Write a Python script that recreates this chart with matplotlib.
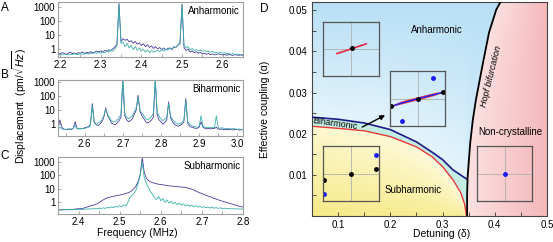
import numpy as np
import matplotlib
matplotlib.use("Agg")
import matplotlib.pyplot as plt
from matplotlib.ticker import FixedLocator, MultipleLocator, NullLocator
from matplotlib.colors import to_rgb

plt.rcParams['font.family'] = ['Liberation Sans', 'DejaVu Sans']
plt.rcParams['font.size'] = 7

# ---------------- spectra (A, B, C) ----------------
# A: anharmonic, sampled every 0.005 MHz from 2.195 to 2.65
a_purple = [0.5, 0.45, 0.55, 0.5, 0.42, 0.5, 0.6, 0.48, 0.52, 0.45,
            0.55, 0.5, 0.62, 0.48, 0.58, 0.52, 0.65, 0.55, 0.6, 0.7,
            0.62, 0.75, 0.6, 0.8, 0.7, 0.9, 0.75, 1.1, 1.3, 2.5,
            1800,
            3.5, 5.5, 4.2, 5, 3.2, 4, 2.6, 3.5, 2.2, 2.8,
            1.8, 2.4, 1.5, 2, 1.3, 1.7, 1.1, 1.5, 1.0, 1.3,
            0.9, 1.2, 0.85, 1.1, 1.2, 0.9, 1.4, 1.3, 1.9, 2.4,
            1600,
            1.2, 0.8, 1.0, 0.6, 0.75, 0.55, 0.65, 0.5, 0.6, 0.45,
            0.5, 0.42, 0.48, 0.4, 0.45, 0.38, 0.42, 0.45, 0.4, 0.38,
            0.42, 0.36, 0.4, 0.38, 0.35, 0.4, 0.37, 0.36, 0.38, 0.35]
a_teal = [0.4, 0.42, 0.38, 0.45, 0.4, 0.38, 0.43, 0.4, 0.45, 0.42,
          0.4, 0.48, 0.42, 0.45, 0.5, 0.44, 0.52, 0.48, 0.55, 0.5,
          0.58, 0.5, 0.65, 0.55, 0.7, 0.6, 0.8, 0.7, 1.0, 1.8,
          1500,
          2.5, 3.2, 1.4, 2.6, 1.2, 1.9, 0.9, 1.5, 0.8, 1.2,
          0.7, 1.0, 0.6, 0.85, 0.55, 0.75, 0.6, 0.7, 0.8, 0.65,
          0.9, 0.7, 1.0, 0.85, 1.2, 1.0, 1.5, 1.3, 2.0, 3.0,
          1400,
          1.8, 1.2, 1.5, 0.9, 1.1, 0.8, 0.9, 0.75, 0.85, 0.7,
          0.8, 0.65, 0.75, 0.6, 0.7, 0.55, 0.62, 0.5, 0.58, 0.5,
          0.55, 0.45, 0.5, 0.42, 0.48, 0.4, 0.45, 0.4, 0.42, 0.38]

# B: biharmonic, every 0.005 MHz from 2.53 to 3.015
b_purple = [0.5, 2.0, 0.6, 0.45, 0.4, 0.42, 0.45, 0.4, 0.5, 1.5,
            0.5, 0.45, 0.5, 0.48, 0.55, 0.6, 0.65, 1.0, 30, 1.5,
            0.9, 0.8, 1.0, 1.5, 3, 15, 4, 2.5, 1.2, 1.0,
            0.9, 1.2, 1.8, 3, 1500, 4, 2, 1.5, 1.8, 2.5,
            5, 10, 120, 8, 4, 2.5, 1.5, 1.2, 1.5, 2,
            3, 1400, 5, 2, 1.5, 1.0, 1.3, 2, 40, 3,
            1.5, 1.0, 0.8, 0.7, 0.8, 1.0, 1.5, 70, 1.2, 0.7,
            0.6, 0.55, 0.5, 0.5, 0.6, 1.5, 0.6, 0.5, 0.45, 0.5,
            0.45, 0.5, 0.48, 0.6, 0.45, 0.42, 0.45, 0.4, 0.42, 0.4,
            0.42, 0.4, 0.38, 0.42, 0.4, 0.38, 0.4, 0.38]
b_teal = [0.4, 0.6, 0.45, 0.42, 0.4, 0.45, 0.42, 0.45, 0.5, 0.8,
          0.45, 0.5, 0.45, 0.5, 0.48, 0.55, 0.6, 0.8, 20, 1.2,
          1.0, 1.2, 1.5, 2, 4, 12, 5, 3, 1.8, 1.5,
          1.5, 2, 3, 5, 1800, 6, 3, 2.5, 3, 4,
          8, 15, 80, 10, 6, 4, 2.5, 2, 2.5, 3.5,
          6, 1600, 8, 3.5, 2.5, 1.8, 2.2, 3, 30, 4,
          2.2, 1.5, 1.2, 1.0, 1.1, 1.3, 2, 50, 1.5, 1.0,
          0.8, 0.7, 0.65, 0.6, 0.7, 4, 0.7, 0.6, 0.55, 0.6,
          0.55, 0.6, 0.5, 4, 0.55, 0.5, 0.55, 0.5, 0.48, 0.5,
          0.48, 0.45, 0.5, 0.45, 0.42, 0.45, 0.4, 0.42]

# C: subharmonic, every 0.005 MHz from 2.35 to 2.80
c_purple = [0.25, 0.24, 0.25, 0.26, 0.25, 0.26, 0.27, 0.26, 0.28, 0.29,
            0.3, 0.3, 0.32, 0.35, 0.4, 0.45, 0.5, 0.55, 0.62, 0.7,
            0.85, 1.1, 1.4, 1.7, 2.0, 2.2, 2.4, 2.6, 2.8, 3.0,
            3.2, 3.5, 3.8, 4.2, 4.8, 5.5, 7, 10, 16, 35,
            120, 2200,
            150, 60, 40, 32, 28, 25, 23, 21, 20,
            19, 18, 17, 16, 15.5, 15, 14.5, 14, 13.5, 13,
            12.5, 12, 11, 10, 9, 8, 6.5, 5.5, 4.8, 4.2,
            3.6, 3.1, 2.7, 2.4, 2.1, 1.8, 1.6, 1.4, 1.25, 1.1,
            1.0, 0.9, 0.8, 0.72, 0.65, 0.58, 0.52, 0.47, 0.43, 0.4]
c_teal = [0.25, 0.26, 0.24, 0.25, 0.27, 0.25, 0.26, 0.25, 0.27, 0.26,
          0.27, 0.26, 0.28, 0.27, 0.29, 0.28, 0.3, 0.29, 0.31, 0.3,
          0.33, 0.31, 0.35, 0.32, 0.38, 0.34, 0.42, 0.36, 0.45, 0.4,
          0.5, 0.42, 0.6, 0.48, 0.9, 2.2, 3, 4.5, 8, 25,
          100, 900,
          60, 25, 12, 6, 3.5, 2, 1.5, 2.5, 1.2,
          1.8, 0.9, 1.4, 0.8, 1.1, 0.7, 0.9, 0.6, 0.8, 0.55,
          0.7, 0.5, 0.6, 0.45, 0.55, 0.42, 0.5, 0.4, 0.45, 0.38,
          0.42, 0.36, 0.4, 0.34, 0.38, 0.33, 0.36, 0.32, 0.35, 0.31,
          0.33, 0.3, 0.32, 0.29, 0.31, 0.28, 0.3, 0.28, 0.29, 0.28]

a_range = (2.195, 2.65)
b_range = (2.53, 3.015)
c_range = (2.35, 2.80)

# ---------------- phase diagram (D) ----------------
blue_delta = [0.05, 0.10, 0.15, 0.20, 0.25, 0.28, 0.30, 0.32, 0.34, 0.346]
blue_alpha = [0.0240, 0.0235, 0.0226, 0.0210, 0.0180, 0.0155, 0.0137, 0.0112, 0.0095, 0.0090]
red_delta = [0.05, 0.10, 0.15, 0.20, 0.25, 0.28, 0.30, 0.32, 0.335, 0.342, 0.346]
red_alpha = [0.0218, 0.0213, 0.0207, 0.0193, 0.0168, 0.0144, 0.0120, 0.0088, 0.0056, 0.0030, 0.0]
hopf_alpha = [0.0, 0.005, 0.0095, 0.0178, 0.0234, 0.0283, 0.0363, 0.0446, 0.0502, 0.052]
hopf_delta = [0.347, 0.347, 0.348, 0.353, 0.358, 0.364, 0.376, 0.389, 0.403, 0.411]

purple = '#4a3aa0'
teal = '#3ab2aa'

W, H = 553, 242
fig = plt.figure(figsize=(W / 100, H / 100), dpi=100)


def px_axes(x0, y0, x1, y1, **kw):
    return fig.add_axes([x0 / W, 1 - y1 / H, (x1 - x0) / W, (y1 - y0) / H], **kw)


def spectrum(ax, rng, yl, p, t, ticks, label):
    f = np.linspace(rng[0], rng[1], len(p))
    ax.plot(f, p, color=purple, lw=0.6)
    ax.plot(f, t, color=teal, lw=0.6)
    ax.set_yscale('log')
    ax.set_xlim(*rng)
    ax.set_ylim(*yl)
    ax.yaxis.set_major_locator(FixedLocator([1, 10, 100, 1000]))
    ax.yaxis.set_minor_locator(NullLocator())
    ax.set_yticklabels(['1', '10', '100', '1000'])
    ax.xaxis.set_major_locator(FixedLocator(ticks))
    ax.set_xticklabels(['%.1f' % v for v in ticks])
    ax.xaxis.set_minor_locator(MultipleLocator(0.05))
    ax.tick_params(which='both', direction='in', length=2, width=0.5,
                   color='#888888', labelsize=7, pad=2)
    for s in ax.spines.values():
        s.set_color('#a0a0a0')
        s.set_linewidth(0.8)
    ax.text(0.985, 0.93, label, transform=ax.transAxes, ha='right', va='top', fontsize=7)


axA = px_axes(58, 2, 243, 57)
spectrum(axA, a_range, (0.27, 2300), a_purple, a_teal, [2.2, 2.3, 2.4, 2.5, 2.6], 'Anharmonic')
axB = px_axes(58, 80, 243, 136)
spectrum(axB, b_range, (0.14, 1500), b_purple, b_teal, [2.6, 2.7, 2.8, 2.9, 3.0], 'Biharmonic')
axC = px_axes(58, 157, 243, 214)
spectrum(axC, c_range, (0.12, 2400), c_purple, c_teal, [2.4, 2.5, 2.6, 2.7, 2.8], 'Subharmonic')
axC.set_xlabel('Frequency (MHz)', fontsize=7.5, labelpad=1)
axC.xaxis.set_label_coords(0.43, -0.25)

fig.text(20 / W, 1 - 106 / H, r'Displacement  (pm/$\sqrt{Hz}$)', rotation=90,
         ha='center', va='center', fontsize=7.5)
for lab, x, y in [('A', 5, 8), ('B', 5, 75), ('C', 5, 156), ('D', 264, 9)]:
    fig.text(x / W, 1 - y / H, lab, ha='center', va='center', fontsize=8.5)

# ---------------- panel D ----------------
axD = px_axes(312, 2, 547, 216)
xl, yl = (0.05, 0.5), (0.0, 0.052)
dd = np.linspace(xl[0], xl[1], 500)
aa = np.linspace(yl[0], yl[1], 300)
Dg, Ag = np.meshgrid(dd, aa)
hopf_at = np.interp(Ag, hopf_alpha, hopf_delta)
blue_at = np.interp(Dg, blue_delta, blue_alpha, right=0.0)
red_at = np.interp(Dg, red_delta, red_alpha, right=0.0)


def mix(c0, c1, t):
    c0, c1 = np.array(to_rgb(c0)), np.array(to_rgb(c1))
    t = np.clip(t, 0, 1)[..., None]
    return c0 * (1 - t) + c1 * t


img = np.zeros(Dg.shape + (3,))
blue_reg = mix('#e4f4fc', '#b8dff6', (Ag - blue_at) / (yl[1] - blue_at + 1e-9))
band_reg = np.broadcast_to(np.array(to_rgb('#c4eee4')), img.shape)
yel_reg = mix('#f7ea88', '#fefbe2', Ag / (red_at + 1e-9) * 0.8 + (Dg - 0.05) * 0.6)
pink_reg = mix('#fbe0e0', '#f5b8bb', (Dg - hopf_at) / (xl[1] - hopf_at))
img[:] = blue_reg
m_band = (Ag <= blue_at) & (Ag > red_at)
img[m_band] = band_reg[m_band]
m_yel = Ag <= red_at
img[m_yel] = yel_reg[m_yel]
m_pink = Dg > hopf_at
img[m_pink] = pink_reg[m_pink]
axD.imshow(img, extent=[xl[0], xl[1], yl[0], yl[1]], origin='lower',
           aspect='auto', interpolation='bilinear', zorder=0)

axD.plot(red_delta, red_alpha, color='#e8383a', lw=1.0, zorder=2)
axD.plot(blue_delta, blue_alpha, color='#1c1a8a', lw=1.2, zorder=3)
axD.plot(hopf_delta, hopf_alpha, color='black', lw=1.3, zorder=4)
axD.set_xlim(*xl)
axD.set_ylim(*yl)
axD.xaxis.set_major_locator(FixedLocator([0.1, 0.2, 0.3, 0.4, 0.5]))
axD.set_xticklabels(['0.1', '0.2', '0.3', '0.4', '0.5'])
axD.xaxis.set_minor_locator(MultipleLocator(0.05))
axD.yaxis.set_major_locator(FixedLocator([0.01, 0.02, 0.03, 0.04, 0.05]))
axD.set_yticklabels(['0.01', '0.02', '0.03', '0.04', '0.05'])
axD.yaxis.set_minor_locator(MultipleLocator(0.005))
axD.tick_params(which='both', direction='in', length=3, width=0.6,
                color='#333333', labelsize=7, pad=3)
for s in axD.spines.values():
    s.set_color('#444444')
    s.set_linewidth(0.8)
axD.set_xlabel('Detuning (δ)', fontsize=7.5)
axD.xaxis.set_label_coords(0.55, -0.063)
axD.set_ylabel('Effective coupling (α)', fontsize=7.5)
axD.yaxis.set_label_coords(-0.18, 0.5)

axD.text(0.289, 0.0451, 'Anharmonic', ha='center', va='center', fontsize=7, zorder=5)
axD.text(0.430, 0.0205, 'Non-crystalline', ha='center', va='center', fontsize=7, zorder=5)
axD.text(0.243, 0.0063, 'Subharmonic', ha='center', va='center', fontsize=7, zorder=5)
axD.text(0.094, 0.0225, 'Biharmonic', ha='center', va='center', fontsize=6.5,
         rotation=-8, zorder=5)
axD.text(0.394, 0.0339, 'Hopf bifurcation', ha='center', va='center', fontsize=6.5,
         rotation=76, style='italic', zorder=5)
axD.annotate('', xy=(0.190, 0.0245), xytext=(0.146, 0.0216),
             arrowprops=dict(arrowstyle='-|>', color='black', lw=1.0,
                             mutation_scale=7, shrinkA=0, shrinkB=0), zorder=6)


def inset(x0, y0, x1, y1):
    ia = px_axes(x0, y0, x1, y1, facecolor='none')
    ia.set_xlim(-1, 1)
    ia.set_ylim(-1, 1)
    ia.set_xticks([])
    ia.set_yticks([])
    ia.axhline(0, color='#b0b0b0', lw=0.6)
    ia.axvline(0, color='#b0b0b0', lw=0.6)
    for s in ia.spines.values():
        s.set_color('#555555')
        s.set_linewidth(0.9)
    return ia


# inset: anharmonic
ins1 = inset(323, 22, 379, 76)
ins1.plot([-0.5, 0.54], [-0.17, 0.19], color='#e8304a', lw=1.3)
ins1.plot([0.03], [0.02], 'o', color='black', ms=2.5)

# inset: biharmonic
loop_x = [-0.95, -0.6, -0.2, 0.2, 0.6, 0.91, 0.6, 0.2, -0.2, -0.6, -0.95]
loop_red_y = [-0.29, -0.14, -0.03, 0.07, 0.17, 0.22, 0.11, 0.0, -0.1, -0.2, -0.29]
loop_blue_y = [-0.29, -0.17, -0.07, 0.04, 0.14, 0.22, 0.14, 0.04, -0.06, -0.17, -0.29]
ins2 = inset(390, 71, 445, 126)
ins2.plot(loop_x, loop_red_y, color='#e8304a', lw=0.9)
ins2.plot(loop_x, loop_blue_y, color='#2a2ae0', lw=0.7)
ins2.plot([-0.95, 0.91, 0.0], [-0.29, 0.22, 0.0], 'o', color='black', ms=2.5)
ins2.plot([0.55, -0.58], [0.76, -0.8], 'o', color='#1a1aff', ms=2.5)

# inset: subharmonic
ins3 = inset(323, 146, 379, 201)
ins3.plot([-0.96, 0.0, 0.89], [-0.22, 0.0, 0.18], 'o', color='black', ms=2.5)
ins3.plot([-0.96, 0.89], [-0.73, 0.69], 'o', color='#1a1aff', ms=2.5)

# inset: non-crystalline
ins4 = inset(477, 146, 532, 201)
ins4.plot([0.0], [0.0], 'o', color='#1a1aff', ms=2.5)

fig.savefig('out.png', dpi=100)
